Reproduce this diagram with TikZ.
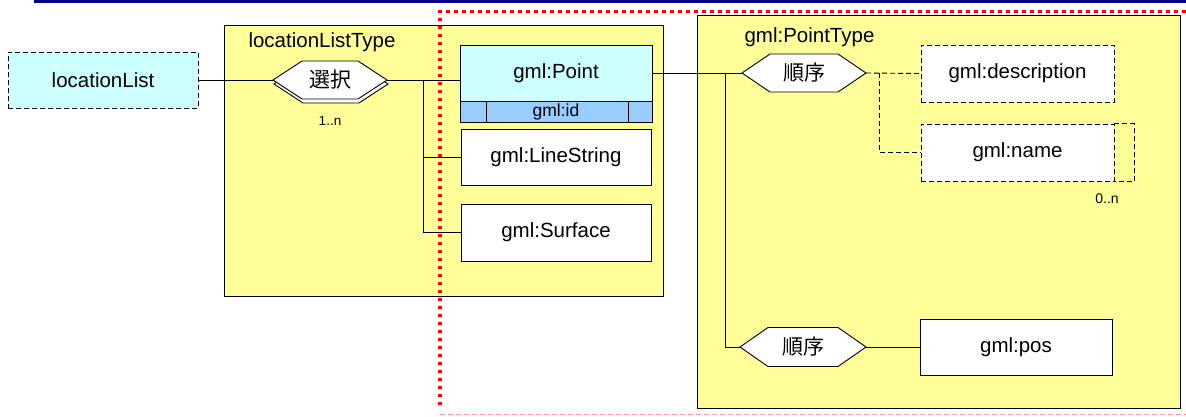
\documentclass[tikz,border=0pt]{standalone}
\usepackage{fontspec}
\setmainfont{Liberation Sans}
\newfontfamily\jpfont{Noto Sans CJK JP}
\definecolor{ylw}{RGB}{255,255,153}
\definecolor{lcyan}{RGB}{204,255,255}
\definecolor{lblue}{RGB}{153,204,255}
\definecolor{navyline}{RGB}{0,0,128}
\definecolor{pinkline}{RGB}{255,150,150}
\definecolor{redframe}{RGB}{255,0,0}
\pgfdeclarelayer{bg}
\pgfdeclarelayer{mid}
\pgfsetlayers{bg,mid,main}
% hexagon outline: centre x, centre y, width, height, inset of the pointed ends
\newcommand\hexshape[5]{(#1-#3/2,#2) -- (#1-#3/2+#5,#2-#4/2) -- (#1+#3/2-#5,#2-#4/2) -- (#1+#3/2,#2) -- (#1+#3/2-#5,#2+#4/2) -- (#1-#3/2+#5,#2+#4/2) -- cycle}
\begin{document}
\begin{tikzpicture}[x=1pt,y=-1pt,
  font=\fontsize{20.5}{24}\selectfont,
  ln/.style={draw=black,line width=0.9pt},
  dsh/.style={ln,dash pattern=on 5pt off 3pt},
  container/.style={ln,fill=ylw},
  elem/.style={ln,fill=white,inner sep=0pt,minimum height=56pt},
  optelem/.style={elem,dash pattern=on 5pt off 3pt},
  hexfill/.style={ln,fill=white},
  hexlabel/.style={inner sep=0pt,font=\jpfont\fontsize{21}{24}\selectfont},
  small/.style={font=\fontsize{13.5}{15}\selectfont},
  reddot/.style={fill=redframe},
  pinkdash/.style={draw=pinkline,line width=1pt,dash pattern=on 5pt off 3pt}]
\useasboundingbox (0,0) rectangle (1186,416);

% title rule
\draw[navyline,line width=2.6pt] (34,1.5) -- (1186,1.5);

% type containers
\begin{pgfonlayer}{bg}
  \draw[container] (224,25) rectangle (663,296);
  \draw[container] (697,15) rectangle (1180,408);
\end{pgfonlayer}
\node[anchor=west] (lltlabel) at (245,42) {locationListType};
\node[anchor=west] (ptlabel) at (741,37) {gml:PointType};

% element boxes
\node[optelem,fill=lcyan,minimum width=190pt] (loclist) at (103,80) {locationList};
\node[elem,fill=lcyan,minimum width=192pt] (pt) at (556,73) {gml:Point};
\node[elem,fill=lblue,minimum width=192pt,minimum height=21pt,font=\fontsize{17.5}{19}\selectfont] (ptid) at (556,111.5) {gml:id};
\draw[ln] (486,101) -- (486,122) (628,101) -- (628,122);
\node[elem,minimum width=190pt] (ls) at (556,157) {gml:LineString};
\node[elem,minimum width=190pt,minimum height=57pt] (sf) at (556,232.5) {gml:Surface};
\node[optelem,minimum width=193pt,minimum height=57pt] (desc) at (1017.5,73.5) {gml:description};
\node[optelem,minimum width=193pt,minimum height=57pt] (name) at (1017.5,152.5) {gml:name};
\draw[dsh] (name.north east) -- ++(20,0) |- (name.south east);
\node[elem,minimum width=192pt] (pos) at (1016,347) {gml:pos};

% compositors (the choice has a raised edge below it)
\begin{pgfonlayer}{mid}
  \filldraw[hexfill] \hexshape{331}{84}{114}{38}{29};
  \filldraw[hexfill] \hexshape{330}{80}{114}{38}{29};
  \filldraw[hexfill] \hexshape{804}{73}{124}{38}{28};
  \filldraw[hexfill] \hexshape{803}{347}{126}{39}{28};
\end{pgfonlayer}
\node[hexlabel,minimum width=114pt,minimum height=38pt] (choice) at (330,80) {選択};
\node[hexlabel,minimum width=124pt,minimum height=38pt] (seq1) at (804,73) {順序};
\node[hexlabel,minimum width=126pt,minimum height=39pt] (seq2) at (803,347) {順序};
\node[small] (occ1) at (330,121) {1..n};
\node[small,font=\fontsize{14}{16}\selectfont] (occ2) at (1107,199) {0..n};

% connectors
\begin{pgfonlayer}{mid}
  \coordinate (br1) at (423,80);
  \coordinate (br2) at (725,73);
  \coordinate (br3) at (879,73);
  \draw[ln] (loclist.east) -- (choice.west);
  \draw[ln] (choice.east) -- (choice.east -| pt.west);
  \draw[ln] (br1) |- (ls.west);
  \draw[ln] (br1) |- (sf.west);
  \draw[ln] (pt.east) -- (seq1.west);
  \draw[ln] (br2) |- (seq2.west);
  \draw[ln] (seq2.east) -- (pos.west);
  \draw[dsh] (seq1.east) -- (desc.west);
  \draw[dsh] (br3) |- (name.west);
\end{pgfonlayer}

% red dotted frame, one square dot at a time
\foreach \yy in {11.5,19.5,...,411} \fill[reddot] (438.25,\yy-1.75) rectangle ++(3.5,3.5);
\foreach \xx in {448,456,...,1186} \fill[reddot] (\xx-1.75,9.75) rectangle ++(3.5,3.5);
\draw[pinkdash] (440,414.5) -- (1186,414.5);
\end{tikzpicture}
\end{document}
